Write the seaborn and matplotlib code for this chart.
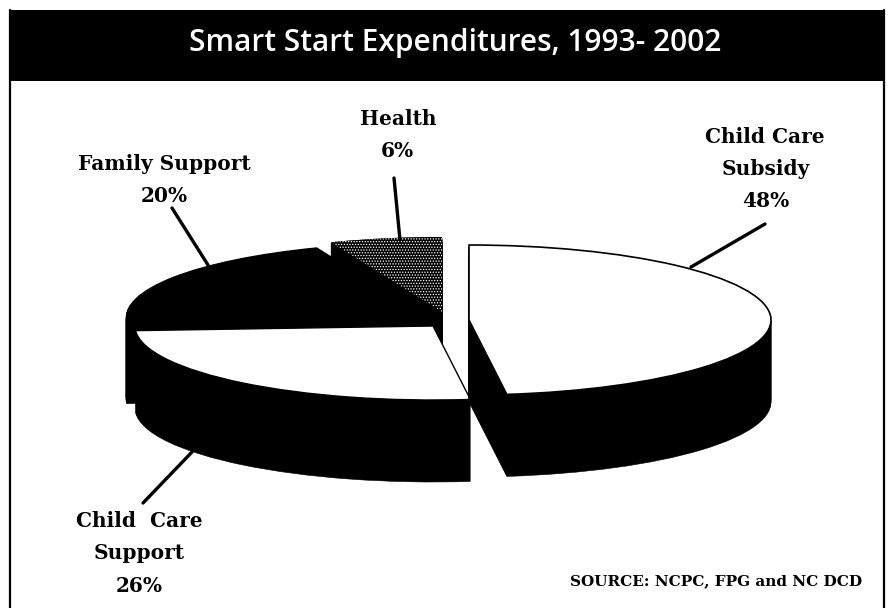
import matplotlib
matplotlib.use("Agg")
import matplotlib.pyplot as plt
from matplotlib.patches import Rectangle
import seaborn as sns

sns.set_theme(style="white")

categories = ["Child Care Subsidy", "Child Care Support", "Family Support", "Health"]
shares = [48, 26, 20, 6]
title = "Smart Start Expenditures, 1993- 2002"
source = "SOURCE: NCPC, FPG and NC DCD"

W, H = 888, 608
SQUASH = 302 / 75.0
DEPTH = 82

fig = plt.figure(figsize=(W / 100, H / 100), dpi=100, facecolor="white")
ax = fig.add_axes([0, 0, 1, 1])


def slice_at(i, cx, cy, r, color, edge="none", lw=0.0, **kw):
    wedges, _ = ax.pie(shares, startangle=90, counterclock=False, radius=r,
                       center=(cx, (H - cy) * SQUASH), colors=["white"] * 4,
                       wedgeprops={"linewidth": 0})
    for j, w in enumerate(wedges):
        if j != i:
            w.remove()
    w = wedges[i]
    w.set_facecolor(color)
    w.set_edgecolor(edge)
    w.set_linewidth(lw)
    for k, v in kw.items():
        getattr(w, "set_" + k)(v)
    return w


def block(i, cx, cy, r, top, edge="none", lw=0.0):
    for d in range(DEPTH, 0, -1):
        slice_at(i, cx, cy + d, r, "black", "black", 0.4)
    return slice_at(i, cx, cy, r, top, edge, lw)


# back pieces first
block(2, 428, 317, 302, "black")
block(3, 442, 312, 302, "black")
plt.rcParams["hatch.linewidth"] = 0.6
speck = slice_at(3, 442, 312, 302, "black", "white", 0.0, hatch="......")
speck.set_clip_path(Rectangle((368, 0), 100, H * SQUASH, transform=ax.transData))
block(1, 433, 326, 298, "white", "black", 1.0)
block(0, 469, 320, 302, "white", "black", 1.2)

ax.set_aspect("auto")
ax.set_xlim(0, W)
ax.set_ylim(0, H * SQUASH)
ax.set_axis_off()

# overlay in pixel coordinates
ov = fig.add_axes([0, 0, 1, 1], facecolor="none")
ov.set_xlim(0, W)
ov.set_ylim(H, 0)
ov.set_axis_off()

ov.add_patch(Rectangle((10, 10), 875, 71, facecolor="black", edgecolor="none"))
ov.plot([10, 10], [10, 608], color="black", lw=1.6)
ov.plot([884, 884], [10, 608], color="black", lw=1.6)
ov.text(455, 43, title, color="white", fontsize=21.5, ha="center", va="center",
        family="Open Sans", weight="semibold")

lab = dict(family="DejaVu Serif", weight="bold", fontsize=14.5, color="black",
           ha="center", va="center")
for x, y, s in [(765, 137, "Child Care"), (766, 169, "Subsidy"), (766, 201, "48%"),
                (164, 164, "Family Support"), (164, 196, "20%"),
                (398, 119, "Health"), (397, 151, "6%"),
                (139, 521, "Child  Care"), (139, 553, "Support"), (139, 586, "26%")]:
    ov.text(x, y, s, **lab)
ov.text(716, 581, source, family="DejaVu Serif", weight="bold", fontsize=11,
        color="black", ha="center", va="center")

for xs, ys in [((691, 765), (267, 224)), ((394, 400), (178, 240)),
               ((172, 208), (208, 265)), ((192, 143), (452, 503))]:
    ov.plot(xs, ys, color="black", lw=2.4, solid_capstyle="round")

fig.savefig("out.png", dpi=100, facecolor="white")
